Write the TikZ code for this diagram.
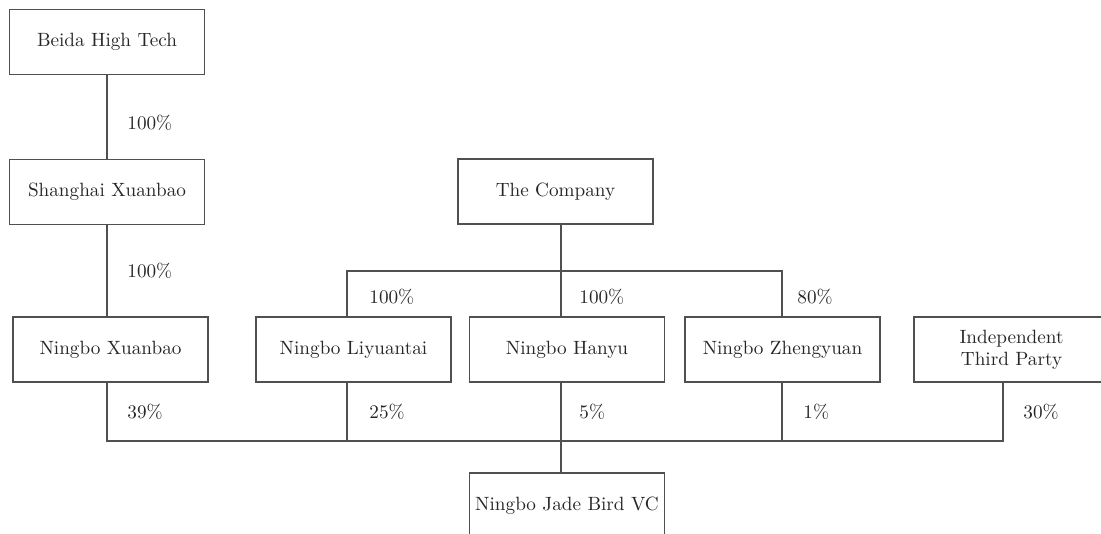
\documentclass[tikz,border=0pt]{standalone}
\usepackage{xcolor}
\usepackage{tikz}
\usetikzlibrary{positioning}
\definecolor{edgegray}{HTML}{505050}
\definecolor{textgray}{HTML}{262626}

\begin{document}
\begin{tikzpicture}[x=0.5pt, y=-0.5pt,
    firm/.style={draw=edgegray, line width=0.7pt, minimum width=97.5pt, minimum height=32.5pt,
                 inner sep=0pt, align=center, text=textgray, font=\fontsize{9.6}{11}\selectfont},
    share/.style={anchor=west, inner sep=0pt, text=textgray, font=\fontsize{9.6}{11}\selectfont},
    link/.style={draw=edgegray, line width=0.7pt}]
    \useasboundingbox (0,0) rectangle (1101,534);

    % 股东
    \node[firm] (beida) at (107,42) {Beida High Tech};
    \node[firm] (shanghai) at (107,192) {Shanghai Xuanbao};
    \node[firm] (xuanbao) at (110.5,349.5) {Ningbo Xuanbao};
    \node[firm] (company) at (555.5,191.5) {The Company};

    % 子公司
    \node[firm] (liyuantai) at (353.5,349.5) {Ningbo Liyuantai};
    \node[firm] (hanyu) at (567,349.5) {Ningbo Hanyu};
    \node[firm] (zhengyuan) at (782.5,349.5) {Ningbo Zhengyuan};
    \node[firm] (third) at (1011.5,349.5) {Independent\\Third Party};
    \node[firm] (jadebird) at (567,505.5) {Ningbo Jade Bird VC};

    % 连线
    \coordinate (topmid) at (561,271);
    \coordinate (topleft) at (347,271);
    \coordinate (topright) at (782,271);
    \coordinate (lowleft) at (107,441);
    \coordinate (lowmidleft) at (347,441);
    \coordinate (lowmid) at (561,441);
    \coordinate (lowmidright) at (782,441);
    \coordinate (lowright) at (1003,441);
    \draw[link] (beida.south) -- (shanghai.north);
    \draw[link] (shanghai.south) -- (shanghai.south |- xuanbao.north);
    \draw[link] (topmid |- company.south) -- (topmid |- hanyu.north);
    \draw[link] (topleft |- liyuantai.north) -- (topleft) -- (topright) -- (topright |- zhengyuan.north);
    \draw[link] (lowleft |- xuanbao.south) -- (lowleft) -- (lowright) -- (lowright |- third.south);
    \draw[link] (lowmidleft |- liyuantai.south) -- (lowmidleft);
    \draw[link] (lowmid |- hanyu.south) -- (lowmid |- jadebird.north);
    \draw[link] (lowmidright |- zhengyuan.south) -- (lowmidright);

    % 持股比例
    \node[share] (p1) at (127,123) {100\%};
    \node[share] (p2) at (127,271) {100\%};
    \node[share] (p3) at (369,297) {100\%};
    \node[share] (p4) at (579,297) {100\%};
    \node[share] (p5) at (797,297) {80\%};
    \node[share] (p6) at (127,412) {39\%};
    \node[share] (p7) at (369,412) {25\%};
    \node[share] (p8) at (579,412) {5\%};
    \node[share] (p9) at (803,412) {1\%};
    \node[share] (p10) at (1023,412) {30\%};
\end{tikzpicture}
\end{document}
